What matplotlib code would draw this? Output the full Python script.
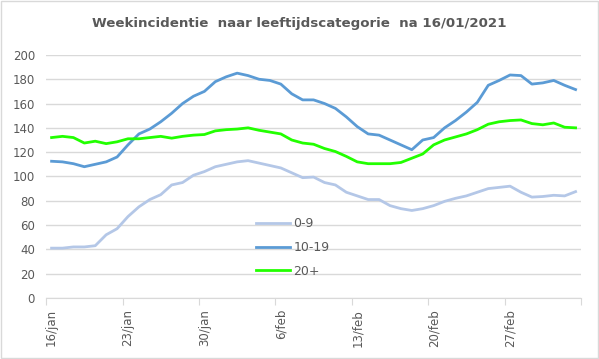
import matplotlib.pyplot as plt
import matplotlib.patches as patches

# daily values, 16/jan .. 5/mar
leeftijd_0_9 = [41, 41, 42, 42, 43, 52, 57, 67, 75, 81, 85, 93, 95, 101, 104, 108, 110,
                112, 113, 111, 109, 107, 103, 99, 99.5, 95, 93, 87, 84, 81, 81, 76, 73.5,
                72, 73.5, 76, 79.5, 82, 84, 87, 90, 91, 92, 87, 83, 83.5, 84.5, 84, 87.5]
leeftijd_10_19 = [112.5, 112, 110.5, 108, 110, 112, 116, 126, 135, 139, 145, 152, 160, 166,
                  170, 178, 182, 185, 183, 180, 179, 176, 168, 163, 163, 160, 156, 149, 141,
                  135, 134, 130, 126, 122, 130, 132, 140, 146, 153, 161, 175, 179, 183.5,
                  183, 176, 177, 179, 175, 171.5]
leeftijd_20plus = [132, 133, 132, 127.5, 129, 127, 128.5, 131, 131, 132, 133, 131.5, 133, 134,
                   134.5, 137.5, 138.5, 139, 140, 138, 136.5, 135, 130, 127.5, 126.5, 123,
                   120.5, 116.5, 112, 110.5, 110.5, 110.5, 111.5, 115, 118.5, 126, 130, 132.5,
                   135, 138.5, 143, 145, 146, 146.5, 143.5, 142.5, 144, 140.5, 140]
tick_labels = ['16/jan', '23/jan', '30/jan', '6/feb', '13/feb', '20/feb', '27/feb']

grey = '#595959'
fig = plt.figure(figsize=(5.99, 3.59), dpi=100)
ax = fig.add_axes([0.077, 0.170, 0.893, 0.677])

x = list(range(len(leeftijd_0_9)))
ax.plot(x, leeftijd_0_9, color='#b4c7e7', lw=2.0, label='0-9')
ax.plot(x, leeftijd_10_19, color='#5b9bd5', lw=2.0, label='10-19')
ax.plot(x, leeftijd_20plus, color='#22ff00', lw=2.0, label='20+')

ax.set_xlim(-0.5, len(x) - 0.5)
ax.set_ylim(0, 200)
ax.set_yticks(range(0, 201, 20))
ax.yaxis.grid(True, color='#d9d9d9', lw=1)
ax.set_axisbelow(True)
ax.tick_params(axis='y', length=0, labelsize=8.5, labelcolor=grey, pad=8)

# tick marks between categories, labels on categories
ax.set_xticks([i - 0.5 for i in range(0, len(x) + 1, 7)])
ax.set_xticklabels([])
ax.set_xticks(list(range(0, len(x), 7)), minor=True)
ax.set_xticklabels(tick_labels, minor=True, rotation=90)
ax.tick_params(axis='x', which='major', length=5, color='#d9d9d9', direction='out')
ax.tick_params(axis='x', which='minor', length=0, labelsize=8.5, labelcolor=grey, pad=8)

for s in ['left', 'right', 'top']:
    ax.spines[s].set_visible(False)
ax.spines['bottom'].set_color('#d9d9d9')

fig.text(0.5, 0.935, 'Weekincidentie  naar leeftijdscategorie  na 16/01/2021',
         ha='center', va='center', fontsize=9.6, fontweight='bold', color=grey)

leg = ax.legend(loc='upper left', bbox_to_anchor=(0.371, 0.378), frameon=False,
                fontsize=9, handlelength=2.7, labelspacing=0.85, handletextpad=0.3)
for t in leg.get_texts():
    t.set_color(grey)

fig.patches.append(patches.Rectangle((0.001, 0.002), 0.997, 0.995, transform=fig.transFigure,
                                     fill=False, edgecolor='#d9d9d9', lw=1))

fig.savefig('out.png', dpi=100)
